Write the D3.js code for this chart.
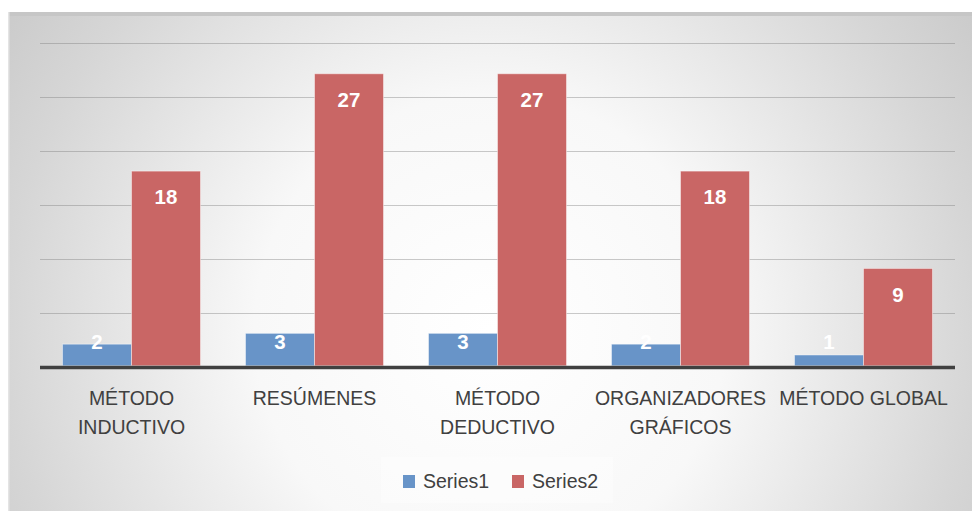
<!DOCTYPE html>
<html>
<head>
<meta charset="utf-8">
<script src="https://cdn.jsdelivr.net/npm/d3@7"></script>
<style>
  body { margin: 0; background: #fff; }
  svg { display: block; }
</style>
</head>
<body>
<div id="chart-area"></div>
<script>
// data
const categories = [
  ["MÉTODO", "INDUCTIVO"],
  ["RESÚMENES"],
  ["MÉTODO", "DEDUCTIVO"],
  ["ORGANIZADORES", "GRÁFICOS"],
  ["MÉTODO GLOBAL"]
];
const seriesNames = ["Series1", "Series2"];
const series1 = [2, 3, 3, 2, 1];
const series2 = [18, 27, 27, 18, 9];
const gridTicks = [5, 10, 15, 20, 25, 30];

const W = 972, H = 511;
const plot = { left: 40, right: 955, top: 41.3, bottom: 365.8 };
const colors = ["#6894c8", "#c96665"];
const font = "'Liberation Sans', Arial, sans-serif";

const svg = d3.select("#chart-area")
  .append("svg")
  .attr("width", W)
  .attr("height", H);

// background gradient
const defs = svg.append("defs");
const grad = defs.append("radialGradient")
  .attr("id", "bg")
  .attr("gradientUnits", "userSpaceOnUse")
  .attr("cx", 490).attr("cy", 330).attr("r", 620);
[[0, "#ffffff"], [0.38, "#f8f8f8"], [0.78, "#d6d6d6"], [1, "#c6c6c6"]].forEach(s => {
  grad.append("stop").attr("offset", s[0]).attr("stop-color", s[1]);
});

svg.append("rect")
  .attr("x", 8).attr("y", 12)
  .attr("width", W - 8).attr("height", H - 12)
  .attr("fill", "url(#bg)");
svg.append("rect")
  .attr("x", 8).attr("y", 12)
  .attr("width", W - 8).attr("height", 4)
  .attr("fill", "#c6c6c6");
svg.append("rect")
  .attr("x", 8).attr("y", 12)
  .attr("width", 1.5).attr("height", H - 12)
  .attr("fill", "#e4e4e4");

const x0 = d3.scaleBand()
  .domain(d3.range(categories.length))
  .range([plot.left, plot.right])
  .paddingInner(0.246)
  .paddingOuter(0.123);

const x1 = d3.scaleBand()
  .domain(seriesNames)
  .range([0, x0.bandwidth()]);

const y = d3.scaleLinear()
  .domain([0, 30])
  .range([plot.bottom, plot.top]);

// gridlines
svg.append("g")
  .selectAll("line")
  .data(gridTicks)
  .enter()
  .append("line")
  .attr("x1", plot.left).attr("x2", plot.right)
  .attr("y1", d => Math.round(y(d) + 1.5) + 0.5)
  .attr("y2", d => Math.round(y(d) + 1.5) + 0.5)
  .attr("stroke", "#7a7a7a")
  .attr("stroke-opacity", 0.4)
  .attr("stroke-width", 1);

// bars
const allSeries = [series1, series2];
const groups = svg.append("g")
  .selectAll("g")
  .data(allSeries)
  .enter()
  .append("g");

groups.selectAll("rect")
  .data((vals, si) => vals.map((v, i) => ({ v, i, si })))
  .enter()
  .append("rect")
  .attr("x", d => x0(d.i) + x1(seriesNames[d.si]))
  .attr("y", d => y(d.v))
  .attr("width", x1.bandwidth())
  .attr("height", d => plot.bottom - y(d.v))
  .attr("fill", d => colors[d.si])
  .attr("stroke", "rgba(255,255,255,0.45)")
  .attr("stroke-width", 1);

// value labels
groups.selectAll("text")
  .data((vals, si) => vals.map((v, i) => ({ v, i, si })))
  .enter()
  .append("text")
  .attr("x", d => x0(d.i) + x1(seriesNames[d.si]) + x1.bandwidth() / 2)
  .attr("y", d => Math.min(y(d.v) + 26, plot.bottom - 24))
  .attr("dy", "0.36em")
  .attr("text-anchor", "middle")
  .attr("font-family", font)
  .attr("font-weight", "bold")
  .attr("font-size", 20.5)
  .attr("fill", "#fff")
  .text(d => d.v);

// baseline
svg.append("line")
  .attr("x1", plot.left).attr("x2", plot.right)
  .attr("y1", plot.bottom + 1.7).attr("y2", plot.bottom + 1.7)
  .attr("stroke", "#404040")
  .attr("stroke-width", 3.5);

// category labels
const catLabels = svg.append("g")
  .selectAll("text")
  .data(categories)
  .enter()
  .append("text")
  .attr("x", (d, i) => x0(i) + x0.bandwidth() / 2)
  .attr("y", 405)
  .attr("text-anchor", "middle")
  .attr("font-family", font)
  .attr("font-size", 19.5)
  .attr("fill", "#404040");

catLabels.each(function(lines) {
  const t = d3.select(this);
  lines.forEach((l, j) => {
    t.append("tspan")
      .attr("x", t.attr("x"))
      .attr("dy", j === 0 ? 0 : 29)
      .text(l);
  });
});

// legend
const legend = svg.append("g");
legend.append("rect")
  .attr("x", 381).attr("y", 457)
  .attr("width", 232).attr("height", 46)
  .attr("fill", "#ffffff")
  .attr("fill-opacity", 0.35);

const legendX = [403, 512];
const items = legend.selectAll(".item")
  .data(seriesNames)
  .enter()
  .append("g")
  .attr("class", "item")
  .attr("transform", (d, i) => `translate(${legendX[i]},475)`);
items.append("rect")
  .attr("width", 12).attr("height", 13)
  .attr("fill", (d, i) => colors[i]);
items.append("text")
  .attr("x", 20).attr("y", 12.5)
  .attr("font-family", font)
  .attr("font-size", 19.5)
  .attr("fill", "#404040")
  .text(d => d);
</script>
</body>
</html>
